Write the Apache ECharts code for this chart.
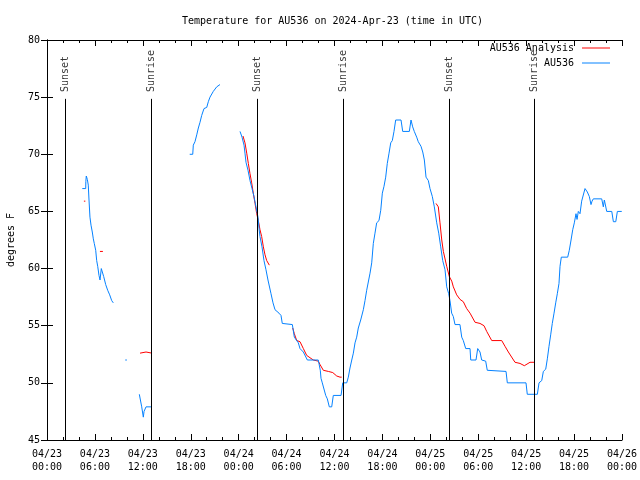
<!DOCTYPE html>
<html><head><meta charset="utf-8">
<script src="https://cdn.jsdelivr.net/npm/echarts@6/dist/echarts.min.js"></script>
<style>html,body{margin:0;padding:0;background:#fff}#c{width:640px;height:480px}</style>
</head><body><div id="c"></div>
<script>
// hours since 04/23 00:00 UTC ; null temp breaks the line
const obsHours = [4.42,4.85,4.86,4.92,5.05,5.17,5.26,5.38,5.51,5.67,5.80,5.92,6.10,6.22,6.35,6.51,6.64,6.80,6.98,7.10,7.35,7.60,7.85,8.10,8.30,
 8.5,
 9.80,10.00,
 10.5,
 11.56,11.68,11.86,12.06,12.15,12.40,13.02,
 15,
 17.87,18.25,18.32,18.53,18.75,18.95,19.16,19.37,19.66,20.00,20.20,20.41,20.82,21.25,21.66,
 23,
 24.17,24.42,24.67,24.79,24.92,25.17,25.42,25.67,25.92,26.17,26.42,26.55,26.67,26.92,27.17,27.42,27.67,28.05,28.30,28.55,29.05,29.30,29.46,29.59,30.72,30.97,31.47,31.68,32.10,32.60,33.97,34.22,34.31,34.47,34.90,35.10,35.35,35.65,35.85,36.82,37.03,37.53,37.73,37.94,38.16,38.36,38.57,38.78,38.98,39.28,39.61,39.82,40.03,40.45,40.66,40.86,41.07,41.28,41.57,41.79,41.99,42.20,42.41,42.61,42.83,43.04,43.24,43.45,43.66,44.33,44.54,45.37,45.58,45.79,45.99,46.29,46.49,46.83,47.05,47.25,47.46,47.75,47.96,48.25,48.50,48.80,49.05,49.30,49.55,49.84,50.05,50.30,50.46,50.67,50.88,51.09,51.71,51.93,52.13,52.43,52.97,53.06,53.72,53.93,54.22,54.43,54.93,55.13,57.48,57.64,59.98,60.14,61.40,61.61,61.95,62.15,62.45,62.65,62.86,63.07,63.27,63.49,63.70,63.90,64.11,64.24,64.40,65.20,65.40,65.62,65.83,66.03,66.24,66.37,66.53,66.74,66.95,67.37,67.66,67.91,68.12,68.25,68.41,69.46,69.66,69.79,70.09,70.72,70.92,71.22,71.42,71.97];
const obsTemps = [67.0,67.0,67.6,68.1,67.8,67.3,66.0,64.5,63.8,63.2,62.6,62.2,61.6,60.7,60.2,59.4,59.0,60.0,60.0,59.3,58.6,58.1,57.7,57.2,57.0,
 null,
 52.0,52.0,
 null,
 49.0,49.0,47.9,47.0,47.5,47.9,47.9,
 null,
 70.0,70.0,70.8,71.1,71.7,72.3,72.8,73.4,74.0,74.1,74.6,75.0,75.5,75.9,76.1,
 null,
 72.0,71.5,70.8,70.1,69.3,68.6,67.7,67.0,66.3,65.4,64.5,63.5,62.8,61.9,60.7,59.9,59.0,57.8,57.0,56.4,56.1,55.9,55.2,55.1,55.1,54.0,53.5,53.0,52.7,52.0,52.0,51.1,50.4,50.0,48.9,48.6,47.9,47.9,48.9,48.9,50.0,50.0,50.5,51.3,52.0,52.6,53.5,54.0,54.8,55.5,56.4,57.2,58.1,59.6,60.5,62.2,63.1,64.0,64.2,65.1,66.6,67.2,68.0,69.2,70.1,71.0,71.2,72.0,73.0,73.0,72.0,72.0,73.0,72.4,72.0,71.5,71.1,70.7,70.2,69.5,68.0,67.7,67.0,66.3,65.4,64.0,63.1,61.9,60.7,59.9,58.4,57.8,57.2,56.1,55.8,55.1,55.1,54.0,53.7,53.0,53.0,52.0,52.0,53.0,52.7,52.0,51.9,51.1,51.0,50.0,50.0,49.0,49.0,50.0,50.2,51.0,51.2,52.1,53.2,54.2,55.2,56.1,57.0,57.8,58.7,60.2,61.0,61.0,61.6,62.5,63.4,64.0,64.8,64.3,65.0,64.8,65.9,67.0,66.7,66.3,65.6,65.9,66.1,66.1,65.4,66.0,65.0,65.0,64.1,64.1,65.0,65.0];

const anaHours = [4.62,4.80, 5.5, 6.63,7.00, 8.0, 9.88,9.96, 10.5, 11.65,11.86,12.40,12.49,13.15, 18,
 24.54,24.79,25.01,25.21,25.42,25.63,25.83,26.05,26.26,26.46,26.67,26.88,27.09,27.30,27.51,27.84,
 29,
 30.77,30.97,31.27,31.68,32.10,32.52,32.93,33.35,33.97,34.19,34.60,35.23,35.78,36.28,36.69,36.90,
 42,
 48.71,49.00,49.21,49.43,49.63,50.05,50.38,50.68,50.88,51.30,51.72,52.13,52.55,52.97,53.60,54.22,54.72,55.06,55.69,56.94,57.35,57.77,58.60,59.23,59.77,60.48,61.02];
const anaTemps = [65.9,65.9, null, 61.5,61.5, null, 55.0,55.0, null, 52.6,52.7,52.7,52.6,52.6, null,
 71.6,71.0,70.1,69.2,68.3,67.5,66.6,65.7,64.8,64.2,63.4,62.8,61.9,61.2,60.7,60.3,
 null,
 54.8,54.3,53.7,53.6,53.0,52.4,52.2,52.0,51.9,51.6,51.1,51.0,50.9,50.6,50.5,50.5,
 null,
 65.7,65.4,64.0,62.5,61.5,60.2,59.3,58.9,58.4,57.7,57.3,57.1,56.5,56.1,55.3,55.2,55.0,54.5,53.7,53.7,53.2,52.7,51.8,51.7,51.5,51.8,51.8];

const sunNames = ['Sunset','Sunrise','Sunset','Sunrise','Sunset','Sunrise'];
const sunHours = [2.28,13.07,26.33,37.09,50.38,61.02];

const xTickLabels = ['04/23\n00:00','04/23\n06:00','04/23\n12:00','04/23\n18:00','04/24\n00:00','04/24\n06:00','04/24\n12:00','04/24\n18:00','04/25\n00:00','04/25\n06:00','04/25\n12:00','04/25\n18:00','04/26\n00:00'];

const FONT = 'DejaVu Sans Mono';
const FS = 10;
const zip = (a,b) => a.map((v,i)=>[v,b[i]===null?'-':b[i]]);

const chart = echarts.init(document.getElementById('c'), null, {renderer:'canvas'});
const axisCommon = {axisLine:{show:true,lineStyle:{color:'#000',width:1}}, splitLine:{show:false}};
chart.setOption({
  animation:false,
  backgroundColor:'#fff',
  title:{text:'Temperature for AU536 on 2024-Apr-23 (time in UTC)', left:182, top:16, padding:0,
    textStyle:{fontFamily:FONT,fontSize:FS,fontWeight:'normal',color:'#000'}},
  legend:{data:['AU536 Analysis','AU536'], orient:'vertical', right:30, top:43, align:'right', padding:0,
    itemWidth:28, itemHeight:1, itemGap:5, icon:'rect',
    textStyle:{fontFamily:FONT,fontSize:FS,color:'#000',lineHeight:10,padding:[0,3,0,0]}},
  grid:{left:47,right:18,top:40,bottom:40,containLabel:false,outerBoundsMode:'none'},
  xAxis:[
   Object.assign({type:'value',min:0,max:72,interval:6,position:'bottom',
    axisTick:{show:true,inside:true,length:6,lineStyle:{color:'#000'}},
    minorTick:{show:true,splitNumber:3,length:3,lineStyle:{color:'#000'}},
    axisLabel:{fontFamily:FONT,fontSize:FS,color:'#000',margin:8,lineHeight:13,
      formatter:v=>xTickLabels[Math.round(v/6)]}},axisCommon),
   Object.assign({type:'value',min:0,max:72,interval:6,position:'top',
    axisTick:{show:true,inside:true,length:6,lineStyle:{color:'#000'}},
    minorTick:{show:true,splitNumber:3,length:3,lineStyle:{color:'#000'}},
    axisLabel:{show:false}},axisCommon)
  ],
  yAxis:[
   Object.assign({type:'value',min:45,max:80,interval:5,position:'left',
    name:'degrees F',nameLocation:'middle',nameRotate:90,nameGap:31,
    nameTextStyle:{fontFamily:FONT,fontSize:FS,color:'#000'},
    axisTick:{show:true,inside:true,length:6,lineStyle:{color:'#000'}},
    axisLabel:{fontFamily:FONT,fontSize:FS,color:'#000',margin:7}},axisCommon),
   Object.assign({type:'value',min:45,max:80,interval:5,position:'right',
    axisTick:{show:true,inside:true,length:6,lineStyle:{color:'#000'}},
    axisLabel:{show:false}},axisCommon)
  ],
  series:[
   {name:'AU536 Analysis',type:'line',data:zip(anaHours,anaTemps),showSymbol:false,symbol:'none',
    connectNulls:false,lineStyle:{color:'#ff0000',width:1},itemStyle:{color:'#ff0000'},z:2},
   {name:'AU536',type:'line',data:zip(obsHours,obsTemps),showSymbol:false,symbol:'none',
    connectNulls:false,lineStyle:{color:'#0582ff',width:1},itemStyle:{color:'#0582ff'},z:3},
   {name:'sun',type:'line',data:[],symbol:'none',
    markLine:{silent:true,symbol:['none','none'],label:{show:false},
      lineStyle:{color:'#000',width:1,type:'solid'},
      data:sunHours.map(h=>[{coord:[h,45]},{coord:[h,74.85]}])}},
   {name:'sunlbl',type:'scatter',symbolSize:1,itemStyle:{color:'rgba(0,0,0,0)'},
    data:sunHours.map((h,i)=>({value:[h,75.45],name:sunNames[i]})),
    label:{show:true,position:'inside',rotate:90,align:'left',verticalAlign:'middle',
      formatter:p=>p.name,fontFamily:FONT,fontSize:FS,color:'#000'}}
  ]
});
</script></body></html>
